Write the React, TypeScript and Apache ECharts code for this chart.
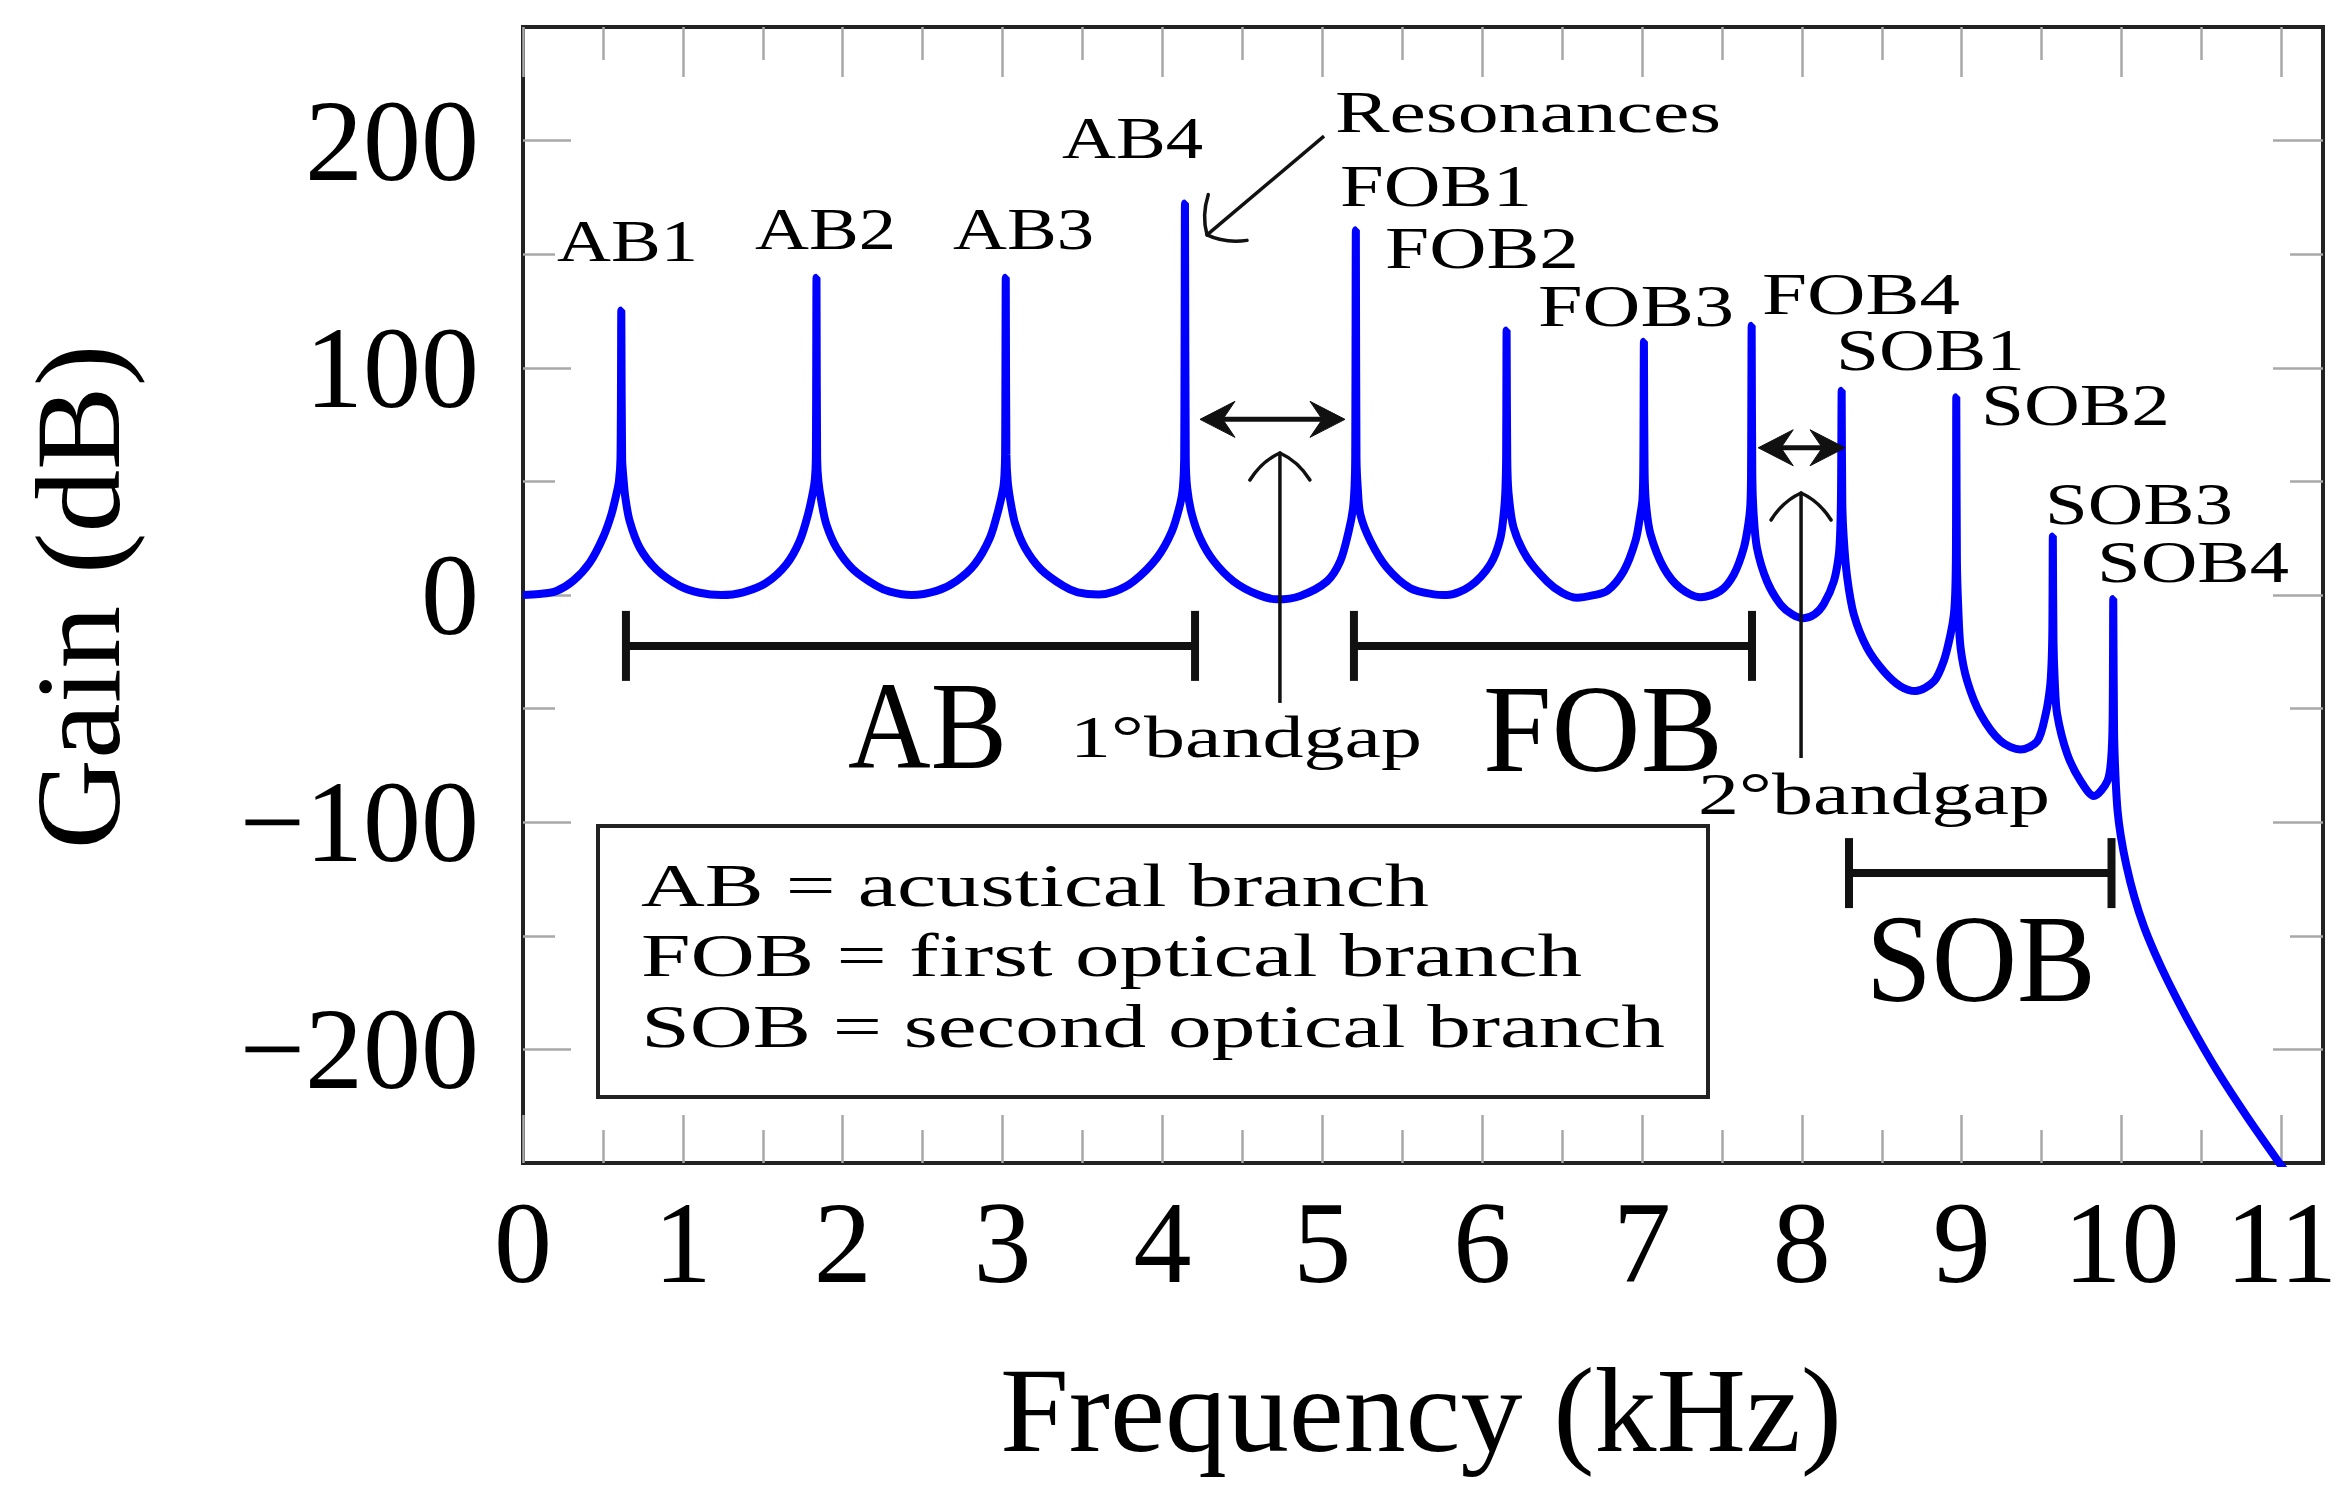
import React, { useEffect, useRef } from 'react';
import * as echarts from 'echarts';

// ---------------- data ----------------
const X_TICKS = [0, 1, 2, 3, 4, 5, 6, 7, 8, 9, 10, 11];
const X_MINOR_TICKS = [0.5, 1.5, 2.5, 3.5, 4.5, 5.5, 6.5, 7.5, 8.5, 9.5, 10.5];
const Y_TICKS = [-200, -100, 0, 100, 200];
const Y_MINOR_TICKS = [-150, -50, 50, 150];
const X_RANGE = [0, 11.26];
const Y_RANGE = [-250, 250];

// [frequency kHz, gain dB]
const GAIN_CURVE: [number, number][] = [
  [0.0, 0.0], [0.1, 0.4], [0.209, 1.8], [0.313, 6.2], [0.417, 14.2], [0.5, 25.2], [0.553, 35.5],
  [0.584, 44.3], [0.6, 50.0], [0.61, 60.0], [0.615, 125.2], [0.62, 60.0], [0.63, 50.0], [0.64, 43.0],
  [0.667, 32.6], [0.73, 20.8], [0.834, 11.3], [0.98, 4.0], [1.105, 1.0], [1.24, 0.0], [1.377, 1.2],
  [1.523, 5.4], [1.648, 13.5], [1.731, 23.8], [1.783, 35.5], [1.815, 45.8], [1.826, 51.0], [1.832, 60.0],
  [1.836, 139.6], [1.84, 60.0], [1.848, 50.0], [1.867, 41.0], [1.898, 31.0], [1.961, 20.8], [2.065, 11.3],
  [2.211, 4.0], [2.295, 1.5], [2.43, 0.0], [2.587, 1.8], [2.712, 6.2], [2.826, 13.5], [2.92, 25.0],
  [2.972, 37.0], [3.004, 47.0], [3.012, 53.0], [3.016, 62.0], [3.02, 139.6], [3.024, 62.0], [3.032, 50.0],
  [3.05, 41.0], [3.08, 31.0], [3.14, 20.8], [3.24, 11.3], [3.38, 4.0], [3.47, 1.2], [3.6, 0.2],
  [3.7, 1.5], [3.819, 6.0], [3.965, 16.3], [4.059, 28.0], [4.111, 40.0], [4.128, 47.0], [4.136, 60.0],
  [4.141, 172.3], [4.146, 60.0], [4.155, 47.0], [4.184, 35.5], [4.236, 25.0], [4.32, 15.0], [4.445, 6.0],
  [4.591, 0.3], [4.716, -1.9], [4.862, -0.4], [5.029, 6.0], [5.113, 15.0], [5.165, 28.0], [5.192, 38.0],
  [5.202, 48.0], [5.206, 60.0], [5.21, 160.5], [5.214, 60.0], [5.222, 47.0], [5.238, 35.5], [5.301, 23.8],
  [5.405, 12.0], [5.551, 3.0], [5.697, 0.3], [5.78, 0.0], [5.926, 4.0], [6.051, 13.5], [6.114, 25.0],
  [6.138, 38.0], [6.146, 47.0], [6.15, 60.0], [6.153, 116.4], [6.157, 60.0], [6.165, 45.0], [6.197, 29.6],
  [6.281, 16.4], [6.406, 6.0], [6.5, 1.0], [6.594, -1.2], [6.69, -0.2], [6.782, 1.8], [6.886, 10.6],
  [6.959, 23.8], [6.99, 35.5], [7.003, 42.0], [7.008, 55.0], [7.012, 111.5], [7.016, 55.0], [7.025, 40.0],
  [7.053, 26.8], [7.136, 12.0], [7.24, 3.0], [7.365, -1.0], [7.49, 1.8], [7.574, 9.0], [7.637, 20.8],
  [7.668, 32.6], [7.678, 40.0], [7.682, 52.0], [7.686, 118.5], [7.69, 52.0], [7.698, 36.0], [7.719, 20.8],
  [7.782, 6.0], [7.866, -4.1], [7.94, -8.5], [8.01, -10.2], [8.08, -8.5], [8.137, -4.0], [8.2, 6.0],
  [8.231, 17.6], [8.24, 28.0], [8.245, 45.0], [8.249, 89.9], [8.253, 40.0], [8.262, 25.0], [8.283, 8.0],
  [8.325, -8.6], [8.408, -23.3], [8.513, -33.6], [8.617, -40.2], [8.711, -42.3], [8.826, -38.0],
  [8.888, -29.0], [8.93, -17.3], [8.951, -8.5], [8.96, 2.0], [8.964, 20.0], [8.966, 87.0], [8.97, 15.0],
  [8.978, -5.0], [8.993, -23.3], [9.035, -38.0], [9.118, -52.5], [9.243, -64.3], [9.369, -68.0],
  [9.473, -64.3], [9.525, -52.5], [9.552, -40.8], [9.562, -30.0], [9.567, -15.0], [9.57, 25.8],
  [9.574, -20.0], [9.582, -38.0], [9.597, -52.5], [9.66, -70.0], [9.744, -81.9], [9.827, -88.5],
  [9.911, -81.9], [9.935, -72.0], [9.944, -55.0], [9.948, -1.8], [9.953, -60.0], [9.962, -80.0],
  [9.975, -95.0], [9.995, -106.0], [10.03, -119.0], [10.08, -133.0], [10.14, -146.0], [10.21, -158.0],
  [10.29, -170.0], [10.43, -189.0], [10.6, -209.7], [10.79, -230.2], [10.995, -250.8], [11.05, -256.0],
];

const PEAK_LABELS = ['AB1', 'AB2', 'AB3', 'AB4', 'FOB1', 'FOB2', 'FOB3', 'FOB4', 'SOB1', 'SOB2', 'SOB3', 'SOB4'];
const BRANCH_NAMES = ['AB', 'FOB', 'SOB'];
const BRANCH_RANGES: [number, number][] = [[0.644, 4.204], [5.198, 7.688], [8.295, 9.937]];
const BRANCH_BAR_GAIN = [-22.4, -22.4, -122.4];
const BANDGAP_TEXTS = ['1°bandgap', '2°bandgap'];
const BANDGAP_RANGES: [number, number][] = [[4.235, 5.142], [7.727, 8.27]];
const BANDGAP_ARROW_GAIN = [77.3, 64.8];
const BANDGAP_POINTER: [number, number, number][] = [[4.735, -47.5, 62.5], [7.995, -71.7, 44.9]];
const RESONANCE_TEXT = 'Resonances';
const RESONANCE_ARROW: [number, number][] = [[5.011, 202], [4.279, 158.5]];
const LEGEND_LINES = ['AB = acustical branch', 'FOB = first optical branch', 'SOB = second optical branch'];
const X_TITLE = 'Frequency (kHz)';
const Y_TITLE = 'Gain (dB)';

// ---------------- layout (pixels) ----------------
const FONT_FAMILY = '"Liberation Serif", "Times New Roman", serif';
const PEAK_LABEL_POS: [number, number, number][] = [
  [627.5, 241.5, 141], [825.5, 229, 141], [1023.5, 229, 141], [1132.5, 138, 141],
  [1436, 186, 192], [1482, 248, 194], [1636, 306, 196], [1861, 293.5, 198],
  [1930.5, 349.5, 189], [2075.5, 404.5, 189], [2139, 503.5, 188], [2193, 562, 192],
];
const BRANCH_NAME_POS: [number, number, number][] = [[927.5, 726.5, 159], [1603, 729, 240], [1981, 959, 230]];
const BANDGAP_TEXT_POS: [number, number, number][] = [[1246, 737, 352], [1874, 793.5, 352]];
const RESONANCE_POS: [number, number, number] = [1528, 111.5, 386];
const LEGEND_BOX = { x: 598, y: 826, width: 1110, height: 271 };
const LEGEND_LINE_POS: [number, number, number][] = [[1035, 885, 788], [1111.5, 956, 941], [1153, 1026, 1024]];
const X_TITLE_POS: [number, number, number] = [1421, 1410, 842];
const Y_TITLE_POS: [number, number, number] = [79, 597, 505];

let measureCtx: any = null;
function measure(text: string, size: number): number {
  if (!measureCtx) measureCtx = document.createElement('canvas').getContext('2d');
  measureCtx.font = `${size}px ${FONT_FAMILY}`;
  return measureCtx.measureText(text).width || 1;
}

function textEl(text: string, pos: [number, number, number], size: number, rotation = 0): any {
  const [cx, cy, w] = pos;
  return {
    type: 'text',
    x: cx,
    y: cy,
    rotation,
    scaleX: w / measure(text, size),
    z: 100,
    silent: true,
    style: {
      text,
      fill: '#000',
      font: `${size}px ${FONT_FAMILY}`,
      textAlign: 'center',
      textVerticalAlign: 'middle',
      align: 'center',
      verticalAlign: 'middle',
    },
  };
}

function lineEl(x1: number, y1: number, x2: number, y2: number, w: number): any {
  return { type: 'line', z: 100, silent: true, shape: { x1, y1, x2, y2 }, style: { stroke: '#111', lineWidth: w, lineCap: 'butt' } };
}

function stealthHead(xt: number, y: number, d: number): any {
  const L = 35, W = 18;
  return {
    type: 'polygon', z: 101, silent: true,
    shape: { points: [[xt, y], [xt + d * L, y - W], [xt + d * 0.65 * L, y], [xt + d * L, y + W]] },
    style: { fill: '#111', stroke: '#111', lineWidth: 1 },
  };
}

function openHead(tx: number, ty: number, dx: number, dy: number): any[] {
  const len = Math.hypot(dx, dy);
  const ux = dx / len, uy = dy / len;
  const bx = -ux, by = -uy;
  const nx = -uy, ny = ux;
  return [1, -1].map((s) => ({
    type: 'bezierCurve', z: 101, silent: true,
    shape: {
      x1: tx, y1: ty,
      x2: tx + 27 * bx + s * 30 * nx, y2: ty + 27 * by + s * 30 * ny,
      cpx1: tx + 8 * bx + s * 18 * nx, cpy1: ty + 8 * by + s * 18 * ny,
    },
    style: { stroke: '#111', lineWidth: 3.5, fill: 'none', lineCap: 'round' },
  }));
}

function buildOption(): any {
  const tickStyle = { color: '#a8a8a8', width: 2.5 };
  const labelStyle = { fontSize: 116, fontFamily: FONT_FAMILY, color: '#000' };
  const xAxis = (position: string, values: number[], length: number, withLabel: boolean) => ({
    type: 'value', position, min: X_RANGE[0], max: X_RANGE[1],
    axisLine: { show: false, onZero: false },
    axisTick: { show: true, inside: true, length, lineStyle: tickStyle, customValues: values },
    axisLabel: withLabel
      ? { show: true, customValues: values, margin: 22, ...labelStyle, formatter: (v: number) => String(v) }
      : { show: false },
    splitLine: { show: false },
  });
  const yAxis = (position: string, values: number[], length: number, withLabel: boolean) => ({
    type: 'value', position, min: Y_RANGE[0], max: Y_RANGE[1],
    axisLine: { show: false, onZero: false },
    axisTick: { show: true, inside: true, length, lineStyle: tickStyle, customValues: values },
    axisLabel: withLabel
      ? { show: true, customValues: values, margin: 44, ...labelStyle, formatter: (v: number) => (v < 0 ? '\u2212' + String(-v) : String(v)) }
      : { show: false },
    splitLine: { show: false },
  });
  return {
    animation: false,
    backgroundColor: '#ffffff',
    grid: {
      left: 523, top: 27, width: 1800, height: 1136,
      show: true, borderColor: '#222', borderWidth: 4, backgroundColor: 'transparent',
      containLabel: false, outerBoundsMode: 'none',
    },
    xAxis: [
      xAxis('bottom', X_TICKS, 48, true),
      xAxis('bottom', X_MINOR_TICKS, 33, false),
      xAxis('top', X_TICKS, 50, false),
      xAxis('top', X_MINOR_TICKS, 33, false),
    ],
    yAxis: [
      yAxis('left', Y_TICKS, 48, true),
      yAxis('left', Y_MINOR_TICKS, 32, false),
      yAxis('right', Y_TICKS, 50, false),
      yAxis('right', Y_MINOR_TICKS, 33, false),
    ],
    series: [
      {
        type: 'line', xAxisIndex: 0, yAxisIndex: 0, data: GAIN_CURVE,
        showSymbol: false, symbol: 'none', clip: true, silent: true, z: 5,
        smooth: 0.3,
        lineStyle: { color: '#0000ff', width: 8, cap: 'butt', join: 'bevel' },
      },
    ],
  };
}

function buildGraphics(chart: any): any[] {
  const P = (x: number, y: number): number[] => chart.convertToPixel({ seriesIndex: 0 }, [x, y]);
  const els: any[] = [];

  // legend box
  els.push({
    type: 'rect', z: 99, silent: true,
    shape: { ...LEGEND_BOX },
    style: { fill: '#fff', stroke: '#222', lineWidth: 4 },
  });
  LEGEND_LINES.forEach((t, i) => els.push(textEl(t, LEGEND_LINE_POS[i], 61)));

  // branch brackets
  BRANCH_RANGES.forEach(([x0, x1], i) => {
    const [a, y] = P(x0, BRANCH_BAR_GAIN[i]);
    const [b] = P(x1, BRANCH_BAR_GAIN[i]);
    els.push(lineEl(a, y, b, y, 8));
    els.push(lineEl(a, y - 35, a, y + 35, 8));
    els.push(lineEl(b, y - 35, b, y + 35, 8));
    els.push(textEl(BRANCH_NAMES[i], BRANCH_NAME_POS[i], 124));
  });

  // bandgap double arrows + pointers
  BANDGAP_RANGES.forEach(([x0, x1], i) => {
    const [a, y] = P(x0, BANDGAP_ARROW_GAIN[i]);
    const [b] = P(x1, BANDGAP_ARROW_GAIN[i]);
    els.push(lineEl(a + 15, y, b - 15, y, 5));
    els.push(stealthHead(a, y, 1));
    els.push(stealthHead(b, y, -1));
    const [fx, g0, g1] = BANDGAP_POINTER[i];
    const [px, pyBottom] = P(fx, g0);
    const [, pyTop] = P(fx, g1);
    els.push(lineEl(px, pyBottom, px, pyTop, 3.5));
    els.push(...openHead(px, pyTop, 0, -1));
    els.push(textEl(BANDGAP_TEXTS[i], BANDGAP_TEXT_POS[i], 60));
  });

  // resonance arrow
  const [s0, s1] = RESONANCE_ARROW;
  const [rx0, ry0] = P(s0[0], s0[1]);
  const [rx1, ry1] = P(s1[0], s1[1]);
  els.push(lineEl(rx0, ry0, rx1, ry1, 3.5));
  els.push(...openHead(rx1, ry1, rx1 - rx0, ry1 - ry0));
  els.push(textEl(RESONANCE_TEXT, RESONANCE_POS, 60));

  // peak labels
  PEAK_LABELS.forEach((t, i) => els.push(textEl(t, PEAK_LABEL_POS[i], 60)));

  // axis titles
  els.push(textEl(X_TITLE, X_TITLE_POS, 121));
  els.push(textEl(Y_TITLE, Y_TITLE_POS, 120, Math.PI / 2));
  return els;
}

export default function App() {
  const ref = useRef<HTMLDivElement>(null);
  useEffect(() => {
    if (!ref.current) return;
    const chart = echarts.init(ref.current, null, { renderer: 'svg' });
    chart.setOption(buildOption());
    chart.setOption({ graphic: { elements: buildGraphics(chart) } });
    return () => {
      chart.dispose();
    };
  }, []);
  return (
    <div
      ref={ref}
      style={{ position: 'fixed', left: 0, top: 0, width: 2351, height: 1501, background: '#fff' }}
    />
  );
}
